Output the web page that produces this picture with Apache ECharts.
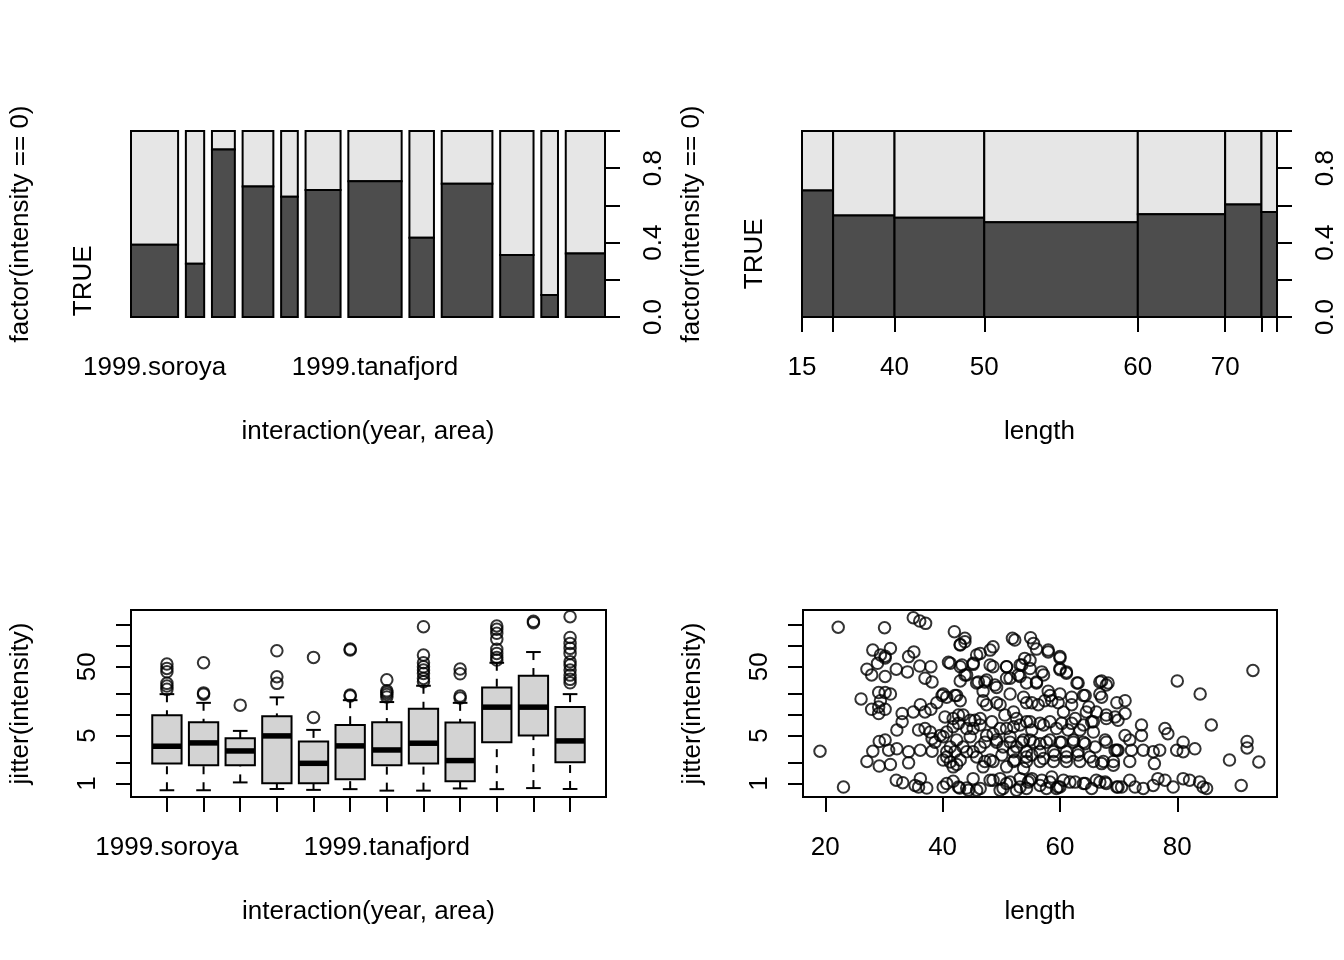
<!DOCTYPE html>
<html>
<head>
<meta charset="utf-8">
<script src="https://cdn.jsdelivr.net/npm/echarts@6/dist/echarts.min.js"></script>
<style>
html, body { margin: 0; padding: 0; background: #fff; }
#chart { width: 1344px; height: 960px; }
</style>
</head>
<body>
<div id="chart"></div>
<script>
// groups of interaction(year, area)
const groupNames = ['1999.soroya', '2000.soroya', '2001.soroya', '1999.mageroya', '2000.mageroya', '2001.mageroya',
    '1999.tanafjord', '2000.tanafjord', '2001.tanafjord', '1999.varangerfjord', '2000.varangerfjord', '2001.varangerfjord'];
const groupLabelsShown = ['1999.soroya', '1999.tanafjord'];
// fish counts per group, split by the two levels of factor(intensity == 0)
const groupDark = [56, 16, 63, 66, 33, 73, 119, 32, 111, 34, 6, 41];
const groupLight = [88, 40, 7, 28, 18, 34, 44, 43, 44, 68, 45, 79];

// length bins
const lengthBreakLabels = ['15', '', '40', '50', '60', '70', '', ''];
const lengthDark = [53, 84, 120, 196, 121, 55, 22];
const lengthLight = [25, 70, 105, 189, 98, 36, 17];

const shareTicks = [0, 0.2, 0.4, 0.6, 0.8, 1];
const shareLabels = [0, 0.4, 0.8];
const levelLabel = 'TRUE';

// boxplot statistics of jitter(intensity) per group
const boxLow = [0.80, 0.80, 1.04, 0.835, 0.81, 0.83, 0.79, 0.79, 0.85, 0.83, 0.86, 0.835];
const boxQ1 = [1.95, 1.85, 1.85, 1.01, 1.01, 1.16, 1.85, 1.95, 1.08, 3.99, 5.00, 2.04];
const boxMedian = [3.49, 3.90, 2.98, 4.93, 1.97, 3.53, 3.08, 3.86, 2.16, 12.9, 12.9, 4.17];
const boxQ3 = [9.87, 7.80, 4.56, 9.55, 4.08, 7.13, 7.80, 12.2, 7.73, 25.0, 36.9, 13.0];
const boxHigh = [19.95, 14.9, 5.83, 17.9, 6.03, 16.3, 15.3, 26.4, 14.9, 57.0, 81.6, 19.95];
const boxOutliers = [
    [23.4, 26.1, 28.6, 42.1, 47.2, 54.5],
    [19.9, 20.8, 57.0],
    [13.8],
    [28.6, 35.7, 85.1],
    [9.14, 68.2],
    [18.7, 19.3, 87.1, 90.2],
    [18.2, 19.7, 21.1, 22.3, 32.2],
    [30.1, 33.7, 39.9, 44.6, 49.8, 57.0, 73.8, 190.5],
    [17.5, 18.7, 39.4, 46.1],
    [62.4, 68.2, 78.0, 89.3, 124.8, 152.8, 174.6, 195],
    [217.8, 228],
    [29.1, 32.7, 37.7, 44.6, 52.7, 58.9, 78.0, 92.3, 109, 133, 266]
];

const intensityTicks = [1, 2, 5, 10, 20, 50, 100, 200];
const intensityLabels = [1, 5, 50];
const lengthTicks = [20, 40, 60, 80];

// [length, jitter(intensity)]
const lengthIntensity = [
    [22.2, 187], [30.1, 184], [35.0, 257], [36.1, 230], [37.1, 213], [42.0, 161], [43.0, 105],
    [28.1, 87], [29.4, 74], [30.2, 67], [31.1, 92], [28.9, 56], [30.2, 71], [34.2, 70], [35.1, 82],
    [27.1, 46], [27.9, 38], [30.2, 36], [32.1, 46], [34.0, 42], [36.1, 51], [37.0, 34], [38.0, 50],
    [38.2, 30], [41.0, 58], [43.0, 50], [43.0, 31], [26.1, 17], [29.1, 21], [30.2, 21], [31.1, 20],
    [29.4, 16], [27.9, 12], [29.1, 10.4], [30.2, 12], [29.1, 13], [33.1, 10.4], [33.1, 7.9], [32.2, 6.0],
    [35.0, 11], [36.2, 14], [37.0, 11], [38.0, 12], [39.0, 15], [39.9, 19], [40.7, 18], [42.1, 19],
    [43.0, 16], [35.9, 6.0], [37.0, 6.3], [37.9, 5.6], [38.2, 4.5], [38.7, 4.0], [39.6, 5.0], [40.7, 5.6],
    [41.8, 8.8], [42.7, 7.5], [19.1, 2.95], [29.2, 4.1], [30.2, 4.3], [28.1, 2.95], [30.8, 3.05],
    [32.2, 3.2], [34.2, 2.9], [36.2, 3.05], [38.2, 2.95], [27.1, 2.1], [29.2, 1.8], [31.1, 1.9],
    [34.2, 2.0], [40.1, 2.2], [41.3, 2.06], [42.4, 1.9], [40.7, 2.9], [42.1, 2.9], [23.1, 0.89],
    [32.1, 1.12], [33.2, 1.03], [35.3, 0.94], [36.2, 1.18], [37.3, 0.86], [35.9, 0.89], [40.1, 0.89],
    [41.8, 1.08], [42.9, 0.86],
    [51.9, 129], [55.0, 132], [43.8, 129], [56.0, 90], [58.0, 87], [60.0, 67], [48.1, 87], [45.8, 74],
    [45.2, 54], [48.6, 50], [50.9, 50], [53.2, 53], [54.0, 66], [54.9, 47], [57.2, 38], [60.0, 47],
    [61.1, 40], [63.1, 29], [67.1, 31], [67.9, 27], [43.8, 38], [45.8, 29], [47.2, 30], [49.2, 25],
    [50.9, 34], [52.9, 38], [56.0, 30], [58.0, 22], [60.0, 20], [62.0, 18], [64.0, 19], [66.8, 20],
    [69.7, 15], [43.5, 9.9], [45.5, 8.3], [47.5, 14], [49.8, 14], [52.1, 11], [54.3, 15], [56.3, 14],
    [58.6, 16], [60.6, 11], [62.6, 8.8], [64.5, 11], [65.7, 7.9], [67.9, 8.8], [69.9, 8.3],
    [44.1, 6.3], [46.4, 7.1], [48.6, 5.3], [50.9, 6.3], [53.2, 7.1], [55.2, 6.0], [57.2, 7.1],
    [59.4, 6.3], [61.4, 6.0], [63.4, 6.0], [65.7, 5.6], [67.9, 4.0], [69.7, 3.05], [44.1, 2.9],
    [47.2, 4.0], [49.2, 4.0], [51.5, 4.0], [53.5, 4.0], [55.5, 4.0], [57.7, 4.0], [60.0, 4.0],
    [62.3, 4.0], [64.0, 4.0],
    [45.2, 2.9], [52.1, 2.9], [54.3, 2.9], [56.6, 2.9], [58.9, 2.9], [61.1, 2.9], [63.1, 2.9],
    [47.2, 2.1], [48.6, 2.1], [52.1, 2.1], [54.3, 2.1], [56.6, 2.1], [58.9, 2.1], [61.1, 2.1],
    [63.4, 2.1], [65.7, 2.1], [67.4, 2.1], [69.1, 2.1],
    [44.1, 0.86], [45.2, 1.18], [48.1, 1.12], [49.8, 1.18], [51.5, 1.05], [53.2, 1.18], [54.9, 1.12],
    [56.6, 0.94], [58.3, 1.05], [60.0, 0.89], [61.7, 1.05], [64.0, 1.0], [66.8, 1.05], [67.9, 1.0],
    [69.9, 0.89], [46.4, 0.85], [50.3, 0.85], [54.3, 0.85], [57.7, 0.85], [59.4, 0.85],
    [92.9, 44], [80.0, 31], [83.9, 20], [71.1, 16], [71.1, 10.4], [73.9, 7.1], [73.9, 5.0],
    [77.9, 6.3], [78.4, 5.3], [85.8, 7.1], [71.1, 5.0], [71.9, 4.3], [69.9, 3.05], [72.2, 3.05],
    [74.2, 3.05], [77.0, 3.05], [79.9, 3.05], [83.0, 3.2], [75.9, 2.9], [81.0, 4.0], [81.0, 2.9],
    [91.9, 4.1], [91.9, 3.3], [88.9, 2.2], [93.9, 2.06], [71.9, 2.1], [76.1, 1.95], [90.9, 0.94],
    [70.5, 0.89], [71.9, 1.12], [72.8, 0.89], [74.2, 0.85], [75.9, 0.94], [76.7, 1.18], [77.9, 1.12],
    [79.3, 0.89], [81.0, 1.18], [82.1, 1.12], [83.8, 1.05], [85.0, 0.85], [84.4, 0.89],
    // dense middle, lengths 40-56
    [43.0, 103], [43.8, 115], [46.4, 78], [48.6, 97], [52.3, 122], [41.3, 56], [43.3, 53], [45.2, 56],
    [48.1, 53], [50.9, 50], [53.5, 53], [44.1, 38], [46.1, 30], [47.5, 32], [48.9, 27], [51.5, 34],
    [53.2, 36], [54.3, 29], [40.1, 20], [42.4, 19], [46.9, 16], [49.2, 15], [51.5, 20], [53.8, 18],
    [46.9, 22], [40.4, 9.3], [42.7, 9.9], [44.7, 8.3], [46.4, 8.8], [48.4, 7.9], [50.6, 9.9], [52.6, 8.8],
    [54.3, 7.9], [41.8, 6.7], [45.2, 6.3], [49.8, 6.3], [52.1, 6.7], [40.1, 4.8], [42.4, 4.3], [44.7, 4.8],
    [47.5, 5.0], [49.2, 4.3], [51.5, 4.8], [53.8, 4.3], [41.3, 3.4], [43.5, 3.4], [46.4, 3.4], [50.3, 3.4],
    [52.6, 3.4], [40.7, 2.44], [43.0, 2.2], [45.8, 2.44], [48.1, 2.2], [50.1, 2.6], [52.3, 2.2], [54.3, 2.44],
    [41.8, 1.75], [46.9, 1.75], [50.9, 1.75], [53.8, 1.65], [40.7, 1.0], [42.7, 0.89], [44.4, 0.80],
    [48.6, 1.12], [50.9, 1.0], [53.2, 0.89], [54.6, 1.05], [45.8, 0.80], [49.8, 0.80], [52.6, 0.80],
    // dense middle, lengths 55-70
    [55.5, 109], [58.0, 82], [60.0, 70], [54.9, 62], [56.9, 42], [60.0, 45], [61.1, 42], [56.0, 29],
    [58.3, 19], [62.9, 29], [66.8, 30], [68.2, 29], [64.3, 19], [67.1, 18], [55.2, 15], [57.4, 16],
    [59.7, 15], [62.0, 14], [64.9, 13], [66.2, 11], [67.9, 9.9], [69.4, 9.3], [54.9, 7.9], [56.6, 7.5],
    [58.3, 7.9], [60.3, 7.5], [62.0, 7.5], [64.0, 7.1], [65.4, 7.9], [54.9, 4.3], [56.6, 3.8], [58.3, 4.3],
    [60.3, 4.0], [62.3, 4.3], [64.3, 3.8], [66.0, 3.4], [67.7, 4.3], [69.4, 3.05], [55.2, 2.6], [57.2, 2.31],
    [59.1, 2.6], [61.1, 2.44], [63.1, 2.6], [65.1, 2.44], [67.1, 1.95], [69.1, 1.85], [55.2, 1.18],
    [56.9, 1.12], [58.6, 1.25], [60.6, 1.12], [62.6, 1.05], [64.3, 1.0], [66.2, 1.12], [67.7, 1.05],
    [69.7, 0.89], [59.7, 0.89], [65.4, 0.85]
];

const FONT = '"Liberation Sans", Arial, Helvetica, sans-serif';
const FS = 26;
const INK = '#000';
const DARK = '#4D4D4D';
const LIGHT = '#E6E6E6';
const BOXFILL = '#D3D3D3';
const LW = 2;

// spine geometry: widths ~ counts, 2% gaps between factor groups
function spineRects(dark, light, gap) {
    const totals = dark.map((d, i) => d + light[i]);
    const all = totals.reduce((a, b) => a + b, 0);
    let x = 0;
    return totals.map((t, i) => {
        const x0 = x, x1 = x + t / all;
        x = x1 + gap;
        return [x0, x1, dark[i] / t];
    });
}
const groupRects = spineRects(groupDark, groupLight, 0.02);
const groupMax = groupRects[groupRects.length - 1][1];
const groupCenters = groupRects.map(r => (r[0] + r[1]) / 2);
const lengthRects = spineRects(lengthDark, lengthLight, 0);
const lengthEdges = [0].concat(lengthRects.map(r => r[1]));

const log10 = Math.log10;
const yMinLog = -0.195, yMaxLog = 2.5226;

function spineItem(params, api) {
    const x0 = api.value(0), x1 = api.value(1), f = api.value(2);
    const a = api.coord([x0, 0]), b = api.coord([x1, f]), c = api.coord([x1, 1]);
    const w = b[0] - a[0];
    return {
        type: 'group',
        children: [
            { type: 'rect', shape: { x: a[0], y: c[1], width: w, height: b[1] - c[1] },
              style: { fill: LIGHT, stroke: INK, lineWidth: LW } },
            { type: 'rect', shape: { x: a[0], y: b[1], width: w, height: a[1] - b[1] },
              style: { fill: DARK, stroke: INK, lineWidth: LW } }
        ]
    };
}

function boxItem(params, api) {
    const i = api.value(0);
    const lo = api.coord([i, api.value(1)]);
    const q1 = api.coord([i, api.value(2)]);
    const md = api.coord([i, api.value(3)]);
    const q3 = api.coord([i, api.value(4)]);
    const hi = api.coord([i, api.value(5)]);
    const bl = api.coord([i - 0.4, 0])[0], br = api.coord([i + 0.4, 0])[0];
    const sl = api.coord([i - 0.2, 0])[0], sr = api.coord([i + 0.2, 0])[0];
    const ln = (x1, y1, x2, y2, extra) => ({
        type: 'line', shape: { x1, y1, x2, y2 },
        style: Object.assign({ stroke: INK, lineWidth: LW }, extra || {})
    });
    return {
        type: 'group',
        children: [
            ln(lo[0], lo[1], q1[0], q1[1], { lineDash: [8, 8] }),
            ln(hi[0], hi[1], q3[0], q3[1], { lineDash: [8, 8] }),
            ln(sl, lo[1], sr, lo[1]),
            ln(sl, hi[1], sr, hi[1]),
            { type: 'rect', shape: { x: bl, y: q3[1], width: br - bl, height: q1[1] - q3[1] },
              style: { fill: BOXFILL, stroke: INK, lineWidth: LW } },
            ln(bl, md[1], br, md[1], { lineWidth: 5.5 })
        ]
    };
}

const boxData = groupNames.map((n, i) => [i + 1, log10(boxLow[i]), log10(boxQ1[i]), log10(boxMedian[i]), log10(boxQ3[i]), log10(boxHigh[i])]);
const outlierData = [];
boxOutliers.forEach((arr, i) => arr.forEach(v => outlierData.push([i + 1, log10(v)])));
const scatterData = lengthIntensity.map(p => [p[0], log10(p[1])]);

const txt = { color: INK, fontFamily: FONT, fontSize: FS };
const noLine = { show: false };
const tickStyle = { lineStyle: { color: INK, width: LW } };

function shareAxisRight(grid) {
    return {
        gridIndex: grid, type: 'value', position: 'right', min: 0, max: 1,
        axisLine: { show: true, onZero: false, lineStyle: { color: INK, width: LW } },
        axisTick: Object.assign({ show: true, length: 15, customValues: shareTicks }, tickStyle),
        axisLabel: Object.assign({ customValues: shareLabels, rotate: 90, margin: 36, formatter: v => v.toFixed(1) }, txt),
        splitLine: noLine
    };
}
function shareAxisLeft(grid, firstShare) {
    return {
        gridIndex: grid, type: 'value', position: 'left', min: 0, max: 1,
        name: 'factor(intensity == 0)', nameLocation: 'middle', nameRotate: 90, nameGap: 97,
        nameTextStyle: txt,
        axisLine: { show: false, onZero: false }, axisTick: noLine, splitLine: noLine,
        axisLabel: Object.assign({ customValues: [firstShare / 2], rotate: 90, margin: 34, formatter: () => levelLabel }, txt)
    };
}
function intensityAxis(grid) {
    return {
        gridIndex: grid, type: 'value', min: yMinLog, max: yMaxLog,
        name: 'jitter(intensity)', nameLocation: 'middle', nameRotate: 90, nameGap: 97,
        nameTextStyle: txt,
        axisLine: { show: false, onZero: false }, splitLine: noLine,
        axisTick: Object.assign({ show: true, length: 15, customValues: intensityTicks.map(log10) }, tickStyle),
        axisLabel: Object.assign({ customValues: intensityLabels.map(log10), rotate: 90, margin: 30,
            formatter: v => String(Math.round(Math.pow(10, v))) }, txt)
    };
}

const circleStyle = { color: 'rgba(0,0,0,0)', borderColor: INK, borderWidth: LW };

const chart = echarts.init(document.getElementById('chart'));
chart.setOption({
    animation: false,
    backgroundColor: '#fff',
    grid: [
        { left: 131, top: 131, width: 474, height: 186 },
        { left: 802, top: 131, width: 475, height: 186 },
        { left: 131, top: 610, width: 475, height: 187, show: true, borderColor: INK, borderWidth: LW },
        { left: 803, top: 610, width: 474, height: 187, show: true, borderColor: INK, borderWidth: LW }
    ],
    xAxis: [
        {
            gridIndex: 0, type: 'value', min: 0, max: groupMax,
            name: 'interaction(year, area)', nameLocation: 'middle', nameGap: 102, nameTextStyle: txt,
            axisLine: { show: false, onZero: false }, axisTick: noLine, splitLine: noLine,
            axisLabel: Object.assign({
                customValues: groupLabelsShown.map(n => groupCenters[groupNames.indexOf(n)]), margin: 38,
                formatter: v => {
                    let best = 0;
                    groupCenters.forEach((c, i) => { if (Math.abs(c - v) < Math.abs(groupCenters[best] - v)) best = i; });
                    return groupNames[best];
                }
            }, txt)
        },
        {
            gridIndex: 1, type: 'value', min: 0, max: 1,
            name: 'length', nameLocation: 'middle', nameGap: 102, nameTextStyle: txt,
            axisLine: { show: true, onZero: false, lineStyle: { color: INK, width: LW } },
            axisTick: Object.assign({ show: true, length: 15, customValues: lengthEdges }, tickStyle),
            splitLine: noLine,
            axisLabel: Object.assign({
                customValues: lengthEdges.filter((e, i) => lengthBreakLabels[i] !== ''), margin: 38,
                formatter: v => {
                    let best = 0;
                    lengthEdges.forEach((e, i) => { if (Math.abs(e - v) < Math.abs(lengthEdges[best] - v)) best = i; });
                    return lengthBreakLabels[best];
                }
            }, txt)
        },
        {
            gridIndex: 2, type: 'value', min: 0.02, max: 12.98,
            name: 'interaction(year, area)', nameLocation: 'middle', nameGap: 102, nameTextStyle: txt,
            axisLine: { show: false, onZero: false }, splitLine: noLine,
            axisTick: Object.assign({ show: true, length: 15, customValues: groupNames.map((n, i) => i + 1) }, tickStyle),
            axisLabel: Object.assign({
                customValues: groupLabelsShown.map(n => groupNames.indexOf(n) + 1), margin: 38,
                formatter: v => groupNames[Math.round(v) - 1]
            }, txt)
        },
        {
            gridIndex: 3, type: 'value', min: 16.2, max: 97,
            name: 'length', nameLocation: 'middle', nameGap: 102, nameTextStyle: txt,
            axisLine: { show: false, onZero: false }, splitLine: noLine,
            axisTick: Object.assign({ show: true, length: 15, customValues: lengthTicks }, tickStyle),
            axisLabel: Object.assign({ customValues: lengthTicks, margin: 38 }, txt)
        }
    ],
    yAxis: [
        shareAxisRight(0),
        shareAxisLeft(0, groupRects[0][2]),
        shareAxisRight(1),
        shareAxisLeft(1, lengthRects[0][2]),
        intensityAxis(2),
        intensityAxis(3)
    ],
    series: [
        { type: 'custom', xAxisIndex: 0, yAxisIndex: 0, renderItem: spineItem, data: groupRects, clip: false },
        { type: 'custom', xAxisIndex: 1, yAxisIndex: 2, renderItem: spineItem, data: lengthRects, clip: false },
        { type: 'custom', xAxisIndex: 2, yAxisIndex: 4, renderItem: boxItem, data: boxData, clip: false },
        {
            type: 'scatter', xAxisIndex: 2, yAxisIndex: 4, data: outlierData, symbol: 'circle', symbolSize: 11.5,
            itemStyle: circleStyle
        },
        {
            type: 'scatter', xAxisIndex: 3, yAxisIndex: 5, data: scatterData, symbol: 'circle', symbolSize: 11.5,
            itemStyle: circleStyle
        }
    ]
});
</script>
</body>
</html>
